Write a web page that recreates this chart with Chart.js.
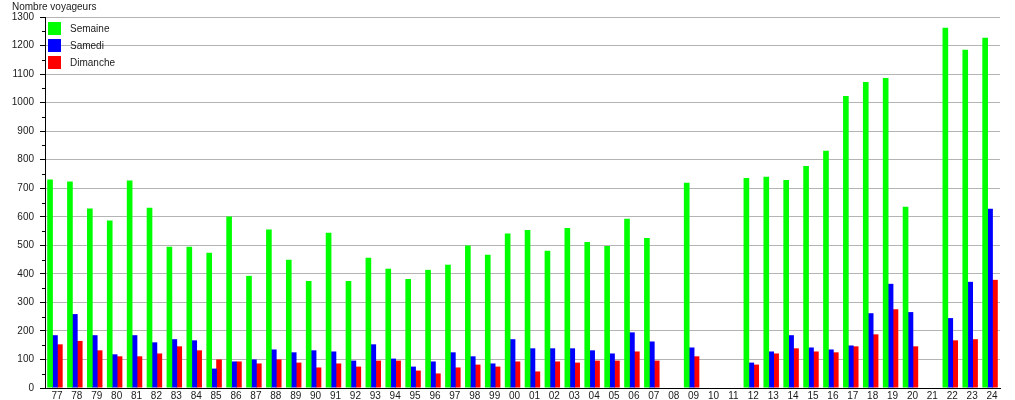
<!DOCTYPE html>
<html lang="fr">
<head>
<meta charset="utf-8">
<title>Nombre voyageurs</title>
<script src="https://cdn.jsdelivr.net/npm/chart.js"></script>
<style>
  html, body { margin: 0; padding: 0; background: #fff; }
  .chart-container { position: relative; width: 1015px; height: 400px; }
  #legende { position: absolute; left: 48px; top: 22px; font: 10px 'Liberation Sans', Arial, sans-serif; color: #1a1a1a; }
  #legende div { height: 13px; margin-bottom: 4px; line-height: 13px; white-space: nowrap; }
  #legende span { display: inline-block; width: 13px; height: 13px; vertical-align: top; margin-right: 9px; }
</style>
</head>
<body>
<div class="chart-container">
  <canvas id="myChart"></canvas>
  <div id="legende"></div>
</div>

<script>
// annees (77 -> 24)
const annees = ['77','78','79','80','81','82','83','84','85','86','87','88','89','90','91','92','93','94','95','96','97','98','99',
                '00','01','02','03','04','05','06','07','08','09','10','11','12','13','14','15','16','17','18','19','20','21','22','23','24'];

const semaine = [731, 724, 629, 587, 727, 632, 495, 495, 474, 601, 393, 555, 449, 375, 544, 375, 456, 418, 382, 414, 432, 499, 467,
                 541, 554, 481, 561, 512, 498, 593, 526, null, 719, null, null, 736, 740, 729, 778, 831, 1023, 1072, 1086, 635, null, 1262, 1185, 1227];

const samedi = [185, 259, 185, 118, 185, 160, 171, 167, 68, 93, 100, 135, 125, 132, 128, 96, 153, 103, 75, 93, 125, 111, 86,
                171, 139, 139, 139, 132, 121, 195, 163, null, 142, null, null, 89, 128, 185, 142, 135, 149, 262, 365, 266, null, 245, 372, 628];

const dimanche = [153, 165, 132, 111, 111, 121, 146, 132, 100, 93, 86, 100, 89, 72, 86, 75, 96, 96, 61, 51, 72, 82, 75,
                  93, 58, 93, 89, 96, 96, 128, 96, null, 111, null, null, 82, 121, 139, 128, 125, 146, 188, 276, 146, null, 167, 171, 379];

const series = ['Semaine', 'Samedi', 'Dimanche'];
const couleurs = ['#00ff00', '#0000ff', '#ff0000'];

const yTicks = { min: 0, max: 1300, step: 100 };

// petits traits secondaires sur l'axe Y (tous les 50)
const minorTicks = {
    id: 'minorTicks',
    afterDraw(chart) {
        const y = chart.scales.y;
        const ctx = chart.ctx;
        const x0 = Math.round(chart.chartArea.left);
        ctx.save();
        ctx.strokeStyle = '#000';
        ctx.lineWidth = 1;
        ctx.beginPath();
        for (let v = yTicks.min + yTicks.step / 2; v < yTicks.max; v += yTicks.step) {
            const py = Math.round(y.getPixelForValue(v)) + 0.5;
            ctx.moveTo(x0 - 3, py);
            ctx.lineTo(x0, py);
        }
        ctx.stroke();
        ctx.restore();
    }
};

Chart.defaults.font.family = "'Liberation Sans', Arial, sans-serif";
Chart.defaults.font.size = 10;
Chart.defaults.color = '#1a1a1a';

const ctx = document.getElementById('myChart');

const chart = new Chart(ctx, {
    type: 'bar',
    data: {
        labels: annees,
        datasets: [
            { label: series[0], data: semaine, backgroundColor: couleurs[0], borderWidth: 0 },
            { label: series[1], data: samedi, backgroundColor: couleurs[1], borderWidth: 0 },
            { label: series[2], data: dimanche, backgroundColor: couleurs[2], borderWidth: 0 }
        ]
    },
    options: {
        responsive: true,
        maintainAspectRatio: false,
        animation: false,
        layout: { padding: { left: 12, right: 15, top: 0, bottom: -4 } },
        datasets: {
            bar: { categoryPercentage: 0.74, barPercentage: 1.15 }
        },
        plugins: {
            title: {
                display: true,
                text: 'Nombre voyageurs',
                align: 'start',
                font: { size: 10, weight: 'normal' },
                padding: { top: 1, bottom: 4 }
            },
            legend: { display: false },
            tooltip: { enabled: false }
        },
        scales: {
            x: {
                grid: { display: false, drawTicks: false },
                border: { display: true, color: '#000', width: 1 },
                ticks: {
                    autoSkip: false,
                    maxRotation: 0,
                    padding: 3,
                    labelOffset: 2,
                    font: { size: 10, lineHeight: 1 }
                }
            },
            y: {
                min: yTicks.min,
                max: yTicks.max,
                afterFit(scale) { scale.width = 33; },
                grid: { color: '#b4b4b4', tickColor: '#000', tickLength: 5 },
                border: { display: true, color: '#000', width: 1 },
                ticks: {
                    stepSize: yTicks.step,
                    padding: 6,
                    font: { size: 10 },
                    callback: (v) => String(v)
                }
            }
        }
    },
    plugins: [minorTicks]
});

// legende en HTML, dans la zone du graphique
let innerLegend = "";
for (let i = 0; i < series.length; i++) {
    innerLegend += "<div><span style='background:" + couleurs[i] + "'></span>" + series[i] + "</div>";
}
document.getElementById("legende").innerHTML = innerLegend;
</script>
</body>
</html>
